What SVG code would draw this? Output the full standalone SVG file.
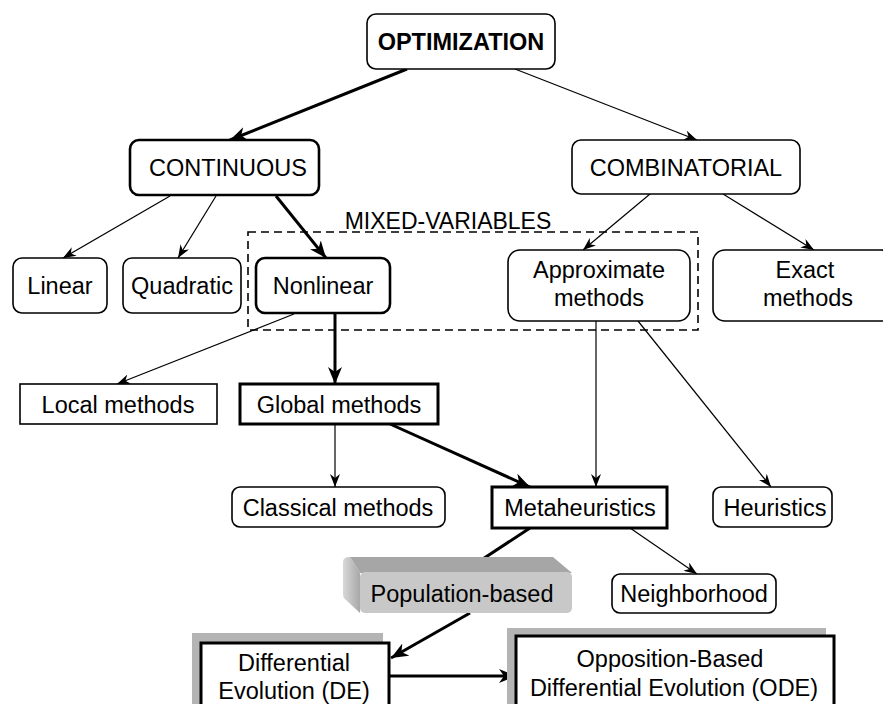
<svg xmlns="http://www.w3.org/2000/svg" width="883" height="704" viewBox="0 0 883 704">
<defs>
<style>
text{font-family:"Liberation Sans",Arial,sans-serif;font-size:23.5px;fill:#000;text-anchor:middle}
.b{fill:#fff;stroke:#000;stroke-width:1.6}
.bt{fill:#fff;stroke:#000;stroke-width:3}
.c{fill:none;stroke:#000;stroke-width:1.2}
.ct{fill:none;stroke:#000;stroke-width:3}
</style>
<marker id="a" markerUnits="userSpaceOnUse" markerWidth="14" markerHeight="10" refX="13" refY="5" orient="auto">
<path d="M0,0 L13,5 L0,10 L4,5 Z" fill="#000"/>
</marker>
<marker id="at" markerUnits="userSpaceOnUse" markerWidth="18" markerHeight="14" refX="17" refY="7" orient="auto">
<path d="M0,0 L17,7 L0,14 L5,7 Z" fill="#000"/>
</marker>
<linearGradient id="side" x1="0" y1="0" x2="1" y2="0">
<stop offset="0" stop-color="#d8d8d8"/><stop offset="1" stop-color="#a8a8a8"/>
</linearGradient>
</defs>
<rect width="883" height="704" fill="#fff"/>
<g id="connectors">
<line class="ct" x1="407" y1="69" x2="230" y2="140" marker-end="url(#at)"/>
<line class="c" x1="515" y1="69" x2="697" y2="140" marker-end="url(#a)"/>
<line class="c" x1="170" y1="196" x2="63" y2="258" marker-end="url(#a)"/>
<line class="c" x1="216" y1="196" x2="178" y2="258" marker-end="url(#a)"/>
<line class="ct" x1="276" y1="196" x2="326" y2="258" marker-end="url(#at)"/>
<line class="c" x1="650" y1="194" x2="583" y2="250" marker-end="url(#a)"/>
<line class="c" x1="723" y1="194" x2="814" y2="250" marker-end="url(#a)"/>
<line class="c" x1="294" y1="314" x2="117" y2="384" marker-end="url(#a)"/>
<line class="ct" x1="335" y1="314" x2="335" y2="384" marker-end="url(#at)"/>
<line class="c" x1="596" y1="321" x2="596" y2="487" marker-end="url(#a)"/>
<line class="c" x1="638" y1="321" x2="771" y2="487" marker-end="url(#a)"/>
<line class="c" x1="335" y1="424" x2="335" y2="487" marker-end="url(#a)"/>
<line class="ct" x1="390" y1="424" x2="530" y2="487" marker-end="url(#at)"/>
<line class="ct" x1="530" y1="528" x2="463" y2="572" marker-end="url(#at)"/>
<line class="c" x1="630" y1="528" x2="697" y2="574" marker-end="url(#a)"/>
<line class="ct" x1="470" y1="613" x2="391" y2="658" marker-end="url(#at)"/>
<line class="ct" x1="389" y1="676" x2="516" y2="676" marker-end="url(#at)"/>
</g>
<g id="mixed">
<rect x="248" y="232" width="450" height="98" fill="none" stroke="#000" stroke-width="1.6" stroke-dasharray="8,5"/>
<text x="448" y="229" style="font-size:23px">MIXED-VARIABLES</text>
</g>
<g id="optimization"><rect class="b" x="367" y="14" width="188" height="55" rx="9"/><text x="461" y="50" style="font-weight:bold">OPTIMIZATION</text></g>
<g id="continuous"><rect class="b" x="130" y="140" width="189" height="55" rx="9" style="stroke-width:2.6"/><text x="228" y="176">CONTINUOUS</text></g>
<g id="combinatorial"><rect class="b" x="572" y="140" width="228" height="54" rx="9"/><text x="686" y="176">COMBINATORIAL</text></g>
<g id="linear"><rect class="b" x="13" y="258" width="94" height="55" rx="9"/><text x="60" y="294">Linear</text></g>
<g id="quadratic"><rect class="b" x="123" y="258" width="118" height="55" rx="9"/><text x="182" y="294">Quadratic</text></g>
<g id="nonlinear"><rect class="b" x="256" y="258" width="134" height="55" rx="9" style="stroke-width:2.6"/><text x="323" y="294">Nonlinear</text></g>
<g id="approximate"><rect class="b" x="508" y="250" width="182" height="71" rx="12"/><text x="599" y="278">Approximate</text><text x="599" y="306">methods</text></g>
<g id="exact"><rect class="b" x="713" y="250" width="180" height="71" rx="12"/><text x="805" y="278">Exact</text><text x="808" y="306">methods</text></g>
<g id="local"><rect class="b" x="20" y="384" width="197" height="40"/><text x="118" y="413">Local methods</text></g>
<g id="global"><rect class="bt" x="240" y="384" width="198" height="40"/><text x="339" y="413">Global methods</text></g>
<g id="classical"><rect class="b" x="232" y="487" width="213" height="40" rx="8"/><text x="338" y="516">Classical methods</text></g>
<g id="metaheuristics"><rect class="bt" x="492" y="487" width="175" height="41"/><text x="580" y="516">Metaheuristics</text></g>
<g id="heuristics"><rect class="b" x="713" y="487" width="119" height="40" rx="8"/><text x="775" y="516">Heuristics</text></g>
<g id="population">
<path d="M350,557 L553,557 L572,573 L360,573 Z" fill="#a6a6a6"/>
<path d="M350,557 L360,573 L360,613 L346,600 Q343,598 343,594 L343,562 Q343,557 350,557 Z" fill="url(#side)"/>
<rect x="360" y="572" width="212" height="41" rx="5" fill="#c8c8c8"/>
<text x="462" y="602">Population-based</text>
</g>
<g id="neighborhood"><rect class="b" x="612" y="574" width="164" height="39" rx="8"/><text x="694" y="602">Neighborhood</text></g>
<g id="de">
<rect x="192" y="633" width="191" height="80" fill="#b4b4b4"/>
<rect class="bt" x="201" y="643" width="188" height="70"/>
<text x="294" y="671">Differential</text><text x="294" y="699">Evolution (DE)</text>
</g>
<g id="ode">
<rect x="507" y="628" width="319" height="85" fill="#b4b4b4"/>
<rect class="bt" x="516" y="636" width="318" height="77"/>
<text x="670" y="667">Opposition-Based</text><text x="674" y="696">Differential Evolution (ODE)</text>
</g>
</svg>
